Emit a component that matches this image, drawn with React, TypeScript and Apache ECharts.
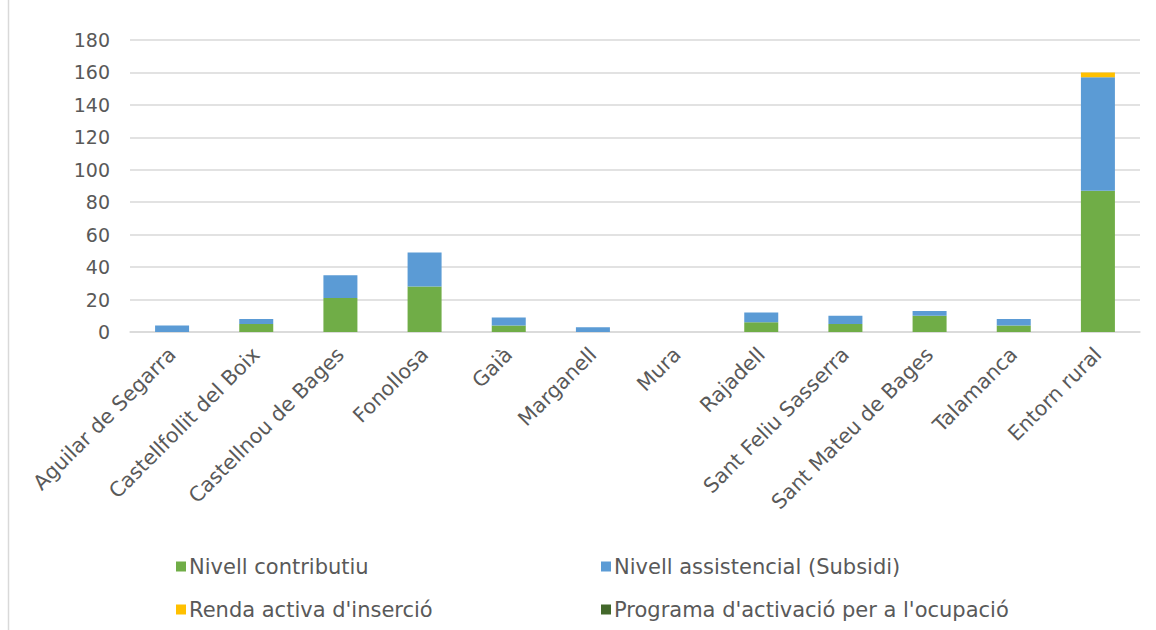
import React, { useEffect, useRef } from "react";
import * as echarts from "echarts";

const categories = [
  "Aguilar de Segarra",
  "Castellfollit del Boix",
  "Castellnou de Bages",
  "Fonollosa",
  "Gaià",
  "Marganell",
  "Mura",
  "Rajadell",
  "Sant Feliu Sasserra",
  "Sant Mateu de Bages",
  "Talamanca",
  "Entorn rural",
];
const contributiu = [0, 5, 21, 28, 4, 0, 0, 6, 5, 10, 4, 87];
const assistencial = [4, 3, 14, 21, 5, 3, 0, 6, 5, 3, 4, 70];
const rai = [0, 0, 0, 0, 0, 0, 0, 0, 0, 0, 0, 3];
const programa = [0, 0, 0, 0, 0, 0, 0, 0, 0, 0, 0, 0];
const seriesNames = [
  "Nivell contributiu",
  "Nivell assistencial (Subsidi)",
  "Renda activa d'inserció",
  "Programa d'activació per a l'ocupació",
];
const colors = ["#70AD47", "#5B9BD5", "#FFC000", "#43682B"];

export default function App() {
  const ref = useRef<HTMLDivElement>(null);
  useEffect(() => {
    if (!ref.current) return;
    const chart = echarts.init(ref.current, null, { renderer: "svg" });
    const font = "DejaVu Sans";
    const textColor = "#595959";
    const data = [contributiu, assistencial, rai, programa];
    const legendPos = [
      { left: 171, top: 551 },
      { left: 596, top: 551 },
      { left: 171, top: 594 },
      { left: 596, top: 594 },
    ];
    chart.setOption({
      animation: false,
      textStyle: { fontFamily: font },
      color: colors,
      grid: { left: 130, right: 16, top: 40, bottom: 298 },
      legend: seriesNames.map((n, i) => ({
        data: [n],
        left: legendPos[i].left,
        top: legendPos[i].top,
        itemWidth: 10,
        itemHeight: 10,
        icon: "rect",
        itemGap: 0,
        textStyle: { fontSize: 21, color: textColor, fontFamily: font, padding: [0, 0, 0, -2] },
      })),
      xAxis: {
        type: "category",
        data: categories,
        axisTick: { show: false },
        axisLine: { lineStyle: { color: "#d9d9d9", width: 1.5 } },
        axisLabel: {
          rotate: 45,
          interval: 0,
          fontSize: 20.5,
          color: textColor,
          fontFamily: font,
          margin: 19,
        },
      },
      yAxis: {
        type: "value",
        min: 0,
        max: 180,
        interval: 20,
        axisLine: { show: false },
        axisTick: { show: false },
        splitLine: { lineStyle: { color: "#d9d9d9", width: 1.5 } },
        axisLabel: { fontSize: 19, color: textColor, fontFamily: font, margin: 20 },
      },
      graphic: [
        {
          type: "line",
          shape: { x1: 8.5, y1: 0, x2: 8.5, y2: 630 },
          style: { stroke: "#d9d9d9", lineWidth: 1.5 },
        },
      ],
      series: seriesNames.map((n, i) => ({
        name: n,
        type: "bar",
        stack: "total",
        barWidth: 34,
        data: data[i],
        itemStyle: { color: colors[i] },
      })),
    });
    return () => chart.dispose();
  }, []);
  return (
    <div
      ref={ref}
      style={{ position: "fixed", left: 0, top: 0, width: 1156, height: 630, background: "#fff" }}
    />
  );
}
